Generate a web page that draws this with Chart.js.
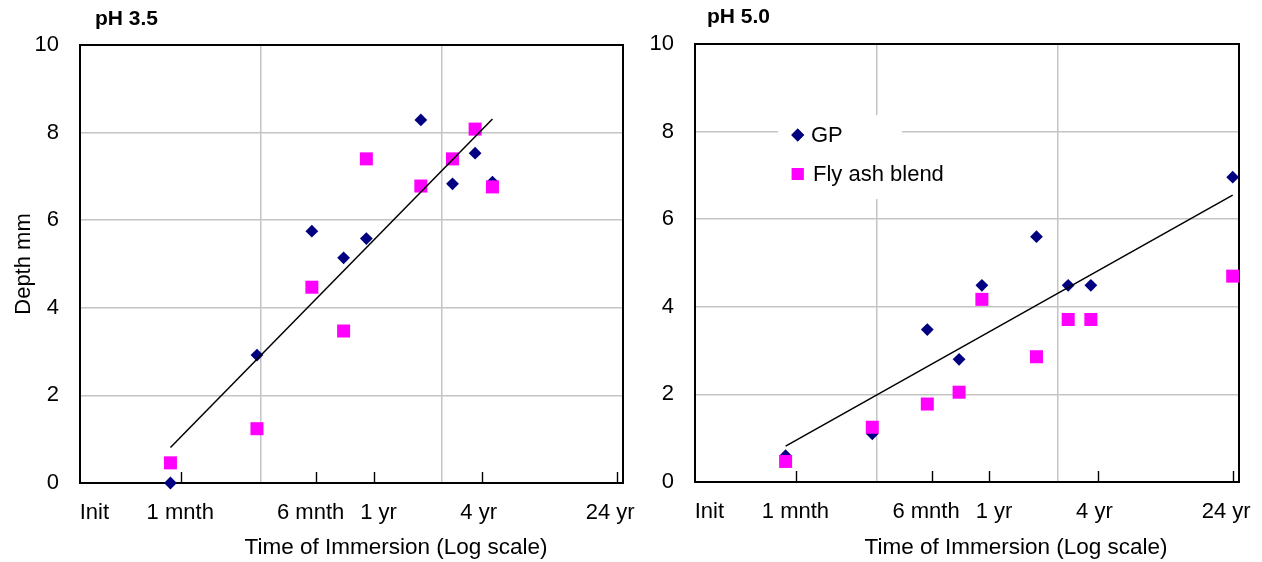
<!DOCTYPE html>
<html>
<head>
<meta charset="utf-8">
<title>Depth vs time of immersion</title>
<script src="https://cdn.jsdelivr.net/npm/chart.js"></script>
<style>
  body { margin: 0; background: #fff; }
  .panels { position: relative; width: 1262px; height: 562px; }
  .panels canvas { position: absolute; top: 0; display: block; }
  #ph35 { left: 0; }
  #ph50 { left: 631px; }
</style>
</head>
<body>
<div class="panels">
  <!-- left canvas is a bit wider so its "24 yr" label can hang past the panel edge -->
  <canvas id="ph35" width="650" height="562"></canvas>
  <canvas id="ph50" width="631" height="562"></canvas>
</div>
<script>
// time of immersion in days, axis runs 10 .. 10000 days on a log scale
const daysPh35 = [31.6, 95, 191, 286, 382, 764, 1143, 1524, 1900];
const gpPh35 = [0, 2.92, 5.75, 5.14, 5.58, 8.29, 6.83, 7.53, 6.87];
const flyAshPh35 = [0.46, 1.24, 4.47, 3.47, 7.4, 6.78, 7.4, 8.08, 6.76];
const trendPh35 = [0.81, 8.31];

const daysPh50 = [31.6, 95, 191, 286, 382, 764, 1143, 1524, 9230];
const gpPh50 = [0.6, 1.1, 3.48, 2.8, 4.49, 5.6, 4.49, 4.49, 6.96];
const flyAshPh50 = [0.47, 1.25, 1.78, 2.05, 4.17, 2.86, 3.71, 3.71, 4.7];
const trendPh50 = [0.82, 6.55];

// the labels were placed by hand in the original, slightly off their marks
const labelDays = [12, 35.8, 188, 446, 1595, 8500];
const tickLabels = ['Init', '1 mnth', '6 mnth', '1 yr', '4 yr', '24 yr'];
const markDays = [36, 202, 420, 1670, 9220];
const gridDays = [10, 100, 1000, 10000];

const COLORS = { gp: '#000080', flyAsh: '#ff00ff', grid: '#c4c4c4', ink: '#000000' };
const FONT_FAMILY = "'Liberation Sans', Arial, sans-serif";

Chart.defaults.font.family = FONT_FAMILY;
Chart.defaults.color = COLORS.ink;

function points(xs, ys) {
  return xs.map((x, i) => ({ x, y: ys[i] }));
}

function drawMarker(ctx, style, radius, x, y, color) {
  ctx.save();
  ctx.fillStyle = color;
  if (Chart.helpers && Chart.helpers.drawPoint) {
    Chart.helpers.drawPoint(ctx, { pointStyle: style, radius, rotation: 0, borderWidth: 0 }, x, y);
    ctx.fill();
  } else if (style === 'rectRot') {
    ctx.beginPath();
    ctx.moveTo(x - radius, y); ctx.lineTo(x, y - radius);
    ctx.lineTo(x + radius, y); ctx.lineTo(x, y + radius);
    ctx.closePath(); ctx.fill();
  } else {
    const s = radius * Math.SQRT1_2;
    ctx.fillRect(x - s, y - s, 2 * s, 2 * s);
  }
  ctx.restore();
}

// the "24 yr" label hangs past the plot edge; don't let it shrink the plot
function noLabelOverhang(s) {
  s.paddingLeft = 0;
  s.paddingRight = 0;
}

// frame, inward tick marks, in-plot legend and the free-standing captions
const panelDecor = {
  id: 'panelDecor',
  beforeDatasetsDraw(chart, args, o) {
    const { ctx, chartArea: a } = chart;
    const xs = chart.scales.x;
    ctx.save();
    ctx.strokeStyle = COLORS.ink;
    ctx.lineWidth = 2;
    ctx.strokeRect(a.left, a.top, a.right - a.left, a.bottom - a.top);
    ctx.lineWidth = 1.4;
    markDays.forEach((d) => {
      const px = Math.round(xs.getPixelForValue(d)) + 0.5;
      ctx.beginPath();
      ctx.moveTo(px, a.bottom);
      ctx.lineTo(px, a.bottom - 11);
      ctx.stroke();
    });
    ctx.restore();

    if (o.legend) {
      const L = o.legend;
      ctx.save();
      ctx.fillStyle = '#ffffff';
      ctx.fillRect(L.x, L.y, L.w, L.h);
      ctx.font = `22px ${FONT_FAMILY}`;
      ctx.textBaseline = 'middle';
      chart.data.datasets.filter((ds) => !ds.isTrend).forEach((ds, i) => {
        const row = L.rows[i];
        drawMarker(ctx, ds.pointStyle, row.r, L.markerX, row.y, ds.backgroundColor);
        ctx.fillStyle = COLORS.ink;
        ctx.fillText(ds.label, row.textX, row.y + 1);
      });
      ctx.restore();
    }
  },
  afterDraw(chart, args, o) {
    const { ctx, chartArea: a } = chart;
    ctx.save();
    ctx.fillStyle = COLORS.ink;
    ctx.font = `bold 21px ${FONT_FAMILY}`;
    ctx.textBaseline = 'alphabetic';
    ctx.textAlign = 'left';
    ctx.fillText(o.title, o.titleX, o.titleY);
    ctx.font = `22.5px ${FONT_FAMILY}`;
    ctx.textAlign = 'center';
    ctx.textBaseline = 'middle';
    ctx.fillText('Time of Immersion (Log scale)', a.left + o.captionDx, 548);
    ctx.restore();
  },
};

function buildPanel(canvasId, p) {
  const tickFont = { size: 22 };
  return new Chart(document.getElementById(canvasId), {
    type: 'scatter',
    data: {
      datasets: [
        {
          label: 'Trend',
          isTrend: true,
          data: points([p.days[0], p.days[p.days.length - 1]], p.trend),
          showLine: true,
          borderColor: COLORS.ink,
          borderWidth: 1.5,
          pointRadius: 0,
          order: 0,
          clip: false,
        },
        {
          label: 'GP',
          data: points(p.days, p.gp),
          pointStyle: 'rectRot',
          pointRadius: 6.4,
          backgroundColor: COLORS.gp,
          borderWidth: 0,
          order: 2,
          clip: false,
        },
        {
          label: 'Fly ash blend',
          data: points(p.days, p.flyAsh),
          pointStyle: 'rect',
          pointRadius: 9.2,
          backgroundColor: COLORS.flyAsh,
          borderWidth: 0,
          order: 1,
          clip: false,
        },
      ],
    },
    options: {
      responsive: false,
      animation: false,
      events: [],
      layout: { autoPadding: false, padding: { top: p.top, right: p.right, left: 0, bottom: 0 } },
      plugins: {
        legend: { display: false },
        tooltip: { enabled: false },
        panelDecor: {
          title: p.title,
          titleX: p.titleX,
          titleY: p.titleY,
          captionDx: p.captionDx,
          legend: p.legend || null,
        },
      },
      scales: {
        x: {
          type: 'logarithmic',
          position: 'bottom',
          min: 10,
          max: 10000,
          afterBuildTicks: (s) => { s.ticks = labelDays.map((v) => ({ value: v })); },
          afterFit: (s) => { s.height = p.xHeight; noLabelOverhang(s); },
          grid: { display: false, drawTicks: false },
          border: { display: false },
          ticks: {
            autoSkip: false,
            maxRotation: 0,
            padding: 17,
            font: tickFont,
            callback: (v, i) => tickLabels[i],
          },
        },
        xg: {
          type: 'logarithmic',
          position: 'bottom',
          min: 10,
          max: 10000,
          afterBuildTicks: (s) => { s.ticks = gridDays.map((v) => ({ value: v })); },
          afterFit: (s) => { s.height = 0; noLabelOverhang(s); },
          grid: { color: COLORS.grid, lineWidth: 1.5, drawTicks: false },
          border: { display: false },
          ticks: { display: false },
        },
        y: {
          type: 'linear',
          min: 0,
          max: 10,
          afterFit: (s) => { s.width = p.yWidth; },
          grid: { color: COLORS.grid, lineWidth: 1.5, drawTicks: false },
          border: { display: false },
          ticks: { stepSize: 2, padding: 21, font: tickFont },
          title: p.yTitle
            ? { display: true, text: p.yTitle, font: { size: 22 }, padding: { top: 11, bottom: 0 } }
            : { display: false },
        },
      },
    },
    plugins: [panelDecor],
  });
}

buildPanel('ph35', {
  days: daysPh35, gp: gpPh35, flyAsh: flyAshPh35, trend: trendPh35,
  title: 'pH 3.5', titleX: 95, titleY: 25,
  top: 45, right: 27, xHeight: 79, yWidth: 80, yTitle: 'Depth mm', captionDx: 316,
});

buildPanel('ph50', {
  days: daysPh50, gp: gpPh50, flyAsh: flyAshPh50, trend: trendPh50,
  title: 'pH 5.0', titleX: 76, titleY: 23,
  top: 44, right: 23, xHeight: 80, yWidth: 64, captionDx: 321,
  legend: {
    x: 147, y: 115, w: 124, h: 84, markerX: 166.7,
    rows: [{ y: 135, r: 6.4, textX: 180 }, { y: 174, r: 8.4, textX: 182 }],
  },
});
</script>
</body>
</html>
